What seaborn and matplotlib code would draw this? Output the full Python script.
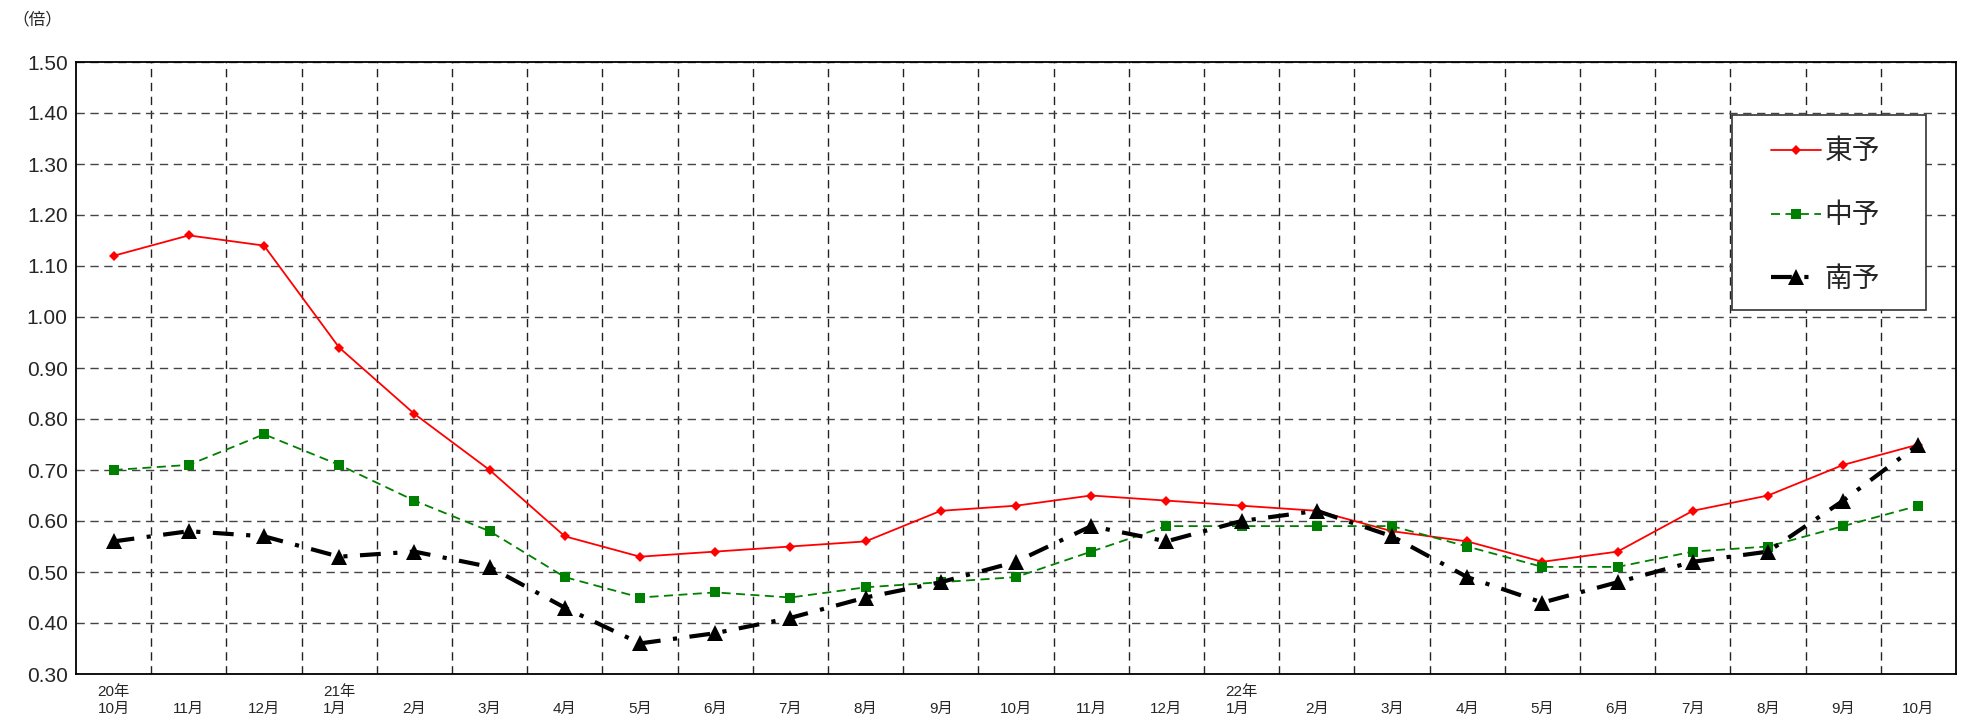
import numpy as np
import pandas as pd
import matplotlib
matplotlib.use("Agg")
import matplotlib.pyplot as plt
from matplotlib.patches import Rectangle
import seaborn as sns

# 月ラベル（20年10月〜22年10月）
months = ["20年\n10月", "\n11月", "\n12月", "21年\n1月", "\n2月", "\n3月", "\n4月", "\n5月",
          "\n6月", "\n7月", "\n8月", "\n9月", "\n10月", "\n11月", "\n12月", "22年\n1月",
          "\n2月", "\n3月", "\n4月", "\n5月", "\n6月", "\n7月", "\n8月", "\n9月", "\n10月"]

toyo = [1.12, 1.16, 1.14, 0.94, 0.81, 0.70, 0.57, 0.53, 0.54, 0.55, 0.56, 0.62, 0.63,
        0.65, 0.64, 0.63, 0.62, 0.58, 0.56, 0.52, 0.54, 0.62, 0.65, 0.71, 0.75]
chuyo = [0.70, 0.71, 0.77, 0.71, 0.64, 0.58, 0.49, 0.45, 0.46, 0.45, 0.47, 0.48, 0.49,
         0.54, 0.59, 0.59, 0.59, 0.59, 0.55, 0.51, 0.51, 0.54, 0.55, 0.59, 0.63]
nanyo = [0.56, 0.58, 0.57, 0.53, 0.54, 0.51, 0.43, 0.36, 0.38, 0.41, 0.45, 0.48, 0.52,
         0.59, 0.56, 0.60, 0.62, 0.57, 0.49, 0.44, 0.48, 0.52, 0.54, 0.64, 0.75]

sns.set_style("white")
plt.rcParams['font.family'] = ['Liberation Sans', 'Noto Sans CJK JP', 'DejaVu Sans']

W, H = 1966, 724
pos = np.arange(len(months))
df = pd.DataFrame({'pos': pos, '東予': toyo, '中予': chuyo, '南予': nanyo})

fig = plt.figure(figsize=(W / 100, H / 100), dpi=100)
ax = fig.add_axes([76 / W, 1 - 674 / H, 1880 / W, (674 - 62) / H])

sns.lineplot(data=df, x='pos', y='東予', ax=ax, color='#ff0000', linewidth=1.3,
             marker='D', markersize=5, markeredgewidth=0, label='東予')
sns.lineplot(data=df, x='pos', y='中予', ax=ax, color='#008000', linewidth=1.3,
             linestyle=(0, (5, 3)), marker='s', markersize=7, markeredgewidth=0, label='中予')
sns.lineplot(data=df, x='pos', y='南予', ax=ax, color='black', linewidth=3,
             linestyle=(0, (5, 3, 1, 3)), marker='^', markersize=11, markeredgewidth=0,
             label='南予')

ax.set_xlim(-0.5, len(months) - 0.5)
ax.set_ylim(0.30, 1.50)
yt = np.arange(0.30, 1.501, 0.10)
ax.set_yticks(yt)
ax.set_yticklabels([f"{v:.2f}" for v in yt], fontsize=15)
ax.set_xticks(pos)
ax.set_xticklabels(months, fontsize=11, multialignment='left', linespacing=1.25)
ax.set_xticks(np.arange(0.5, len(months) - 1, 1.0), minor=True)
ax.tick_params(which='both', length=0)
ax.tick_params(axis='x', pad=8)
ax.tick_params(axis='y', pad=6)
ax.set_xlabel('')
ax.set_ylabel('')

ax.grid(False)
ax.yaxis.grid(True, which='major', color='#444444', linestyle=(0, (6, 4)), linewidth=1)
ax.xaxis.grid(True, which='minor', color='#222222', linestyle=(0, (6, 4)), linewidth=1)
for s in ax.spines.values():
    s.set_color('black')
    s.set_linewidth(1.3)

# 凡例の枠（白地で格子線を隠す）
box = Rectangle((1732 / W, 1 - 310 / H), 194 / W, 195 / H, transform=fig.transFigure,
                facecolor='white', edgecolor='#333333', linewidth=1.2, zorder=4, clip_on=False)
ax.add_patch(box)

leg = ax.legend(loc='upper left', bbox_to_anchor=(1752 / W, 1 - 120 / H),
                bbox_transform=fig.transFigure, fontsize=20, frameon=False,
                handlelength=1.8, labelspacing=1.36, borderpad=0.7, handletextpad=0.12,
                borderaxespad=0)
leg.set_zorder(5)

fig.text(12 / W, 1 - 12 / H, '（倍）', fontsize=12, va='top', ha='left')

fig.savefig('out.png', dpi=100)
